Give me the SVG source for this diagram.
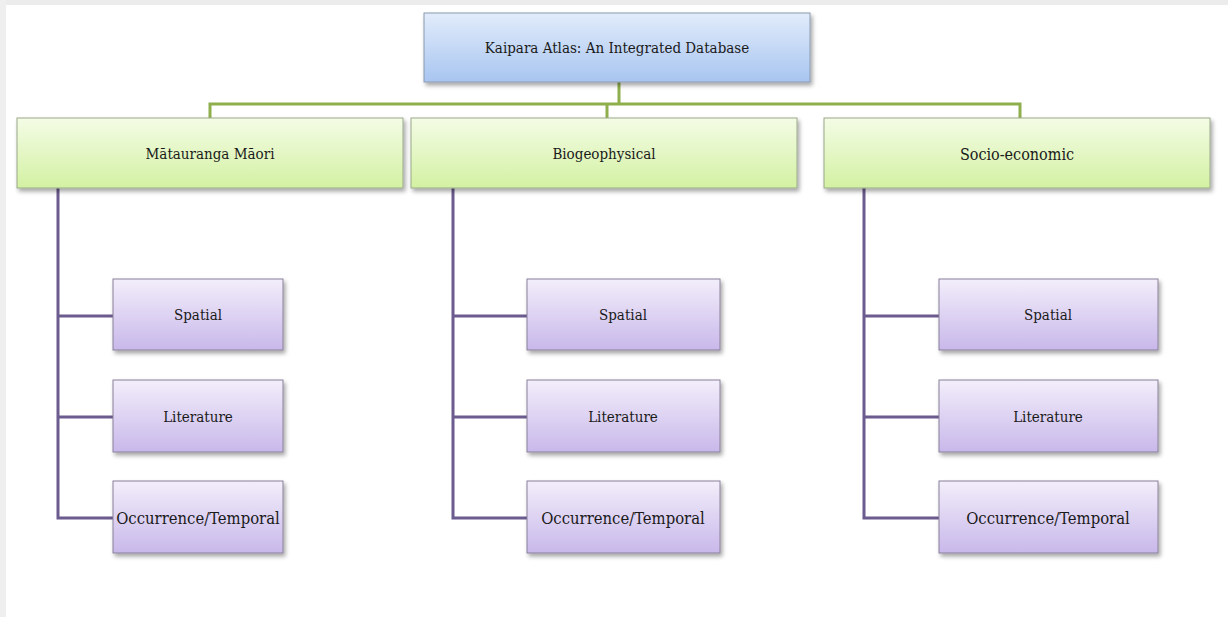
<svg xmlns="http://www.w3.org/2000/svg" width="1228" height="617" viewBox="0 0 1228 617">
<defs>
<linearGradient id="gBlue" x1="0" y1="0" x2="0" y2="1"><stop offset="0" stop-color="#e2ecfb"/><stop offset="1" stop-color="#a8c5f0"/></linearGradient>
<linearGradient id="gGreen" x1="0" y1="0" x2="0" y2="1"><stop offset="0" stop-color="#f4fce6"/><stop offset="1" stop-color="#d3f1a2"/></linearGradient>
<linearGradient id="gPurple" x1="0" y1="0" x2="0" y2="1"><stop offset="0" stop-color="#f3eefb"/><stop offset="1" stop-color="#c8b8ea"/></linearGradient>
<filter id="sh" x="-5%" y="-10%" width="115%" height="130%"><feDropShadow dx="2" dy="3" stdDeviation="2" flood-color="#000" flood-opacity="0.35"/></filter>
</defs>
<style>
text{font-family:"DejaVu Serif","Liberation Serif",serif;font-stretch:condensed;font-size:15px;fill:#1a1a1a;text-anchor:middle;dominant-baseline:central}
text.occ{font-size:16.5px}
.blue{fill:url(#gBlue);stroke:#8a9ab0;stroke-width:1}
.green{fill:url(#gGreen);stroke:#9aa88a;stroke-width:1}
.purple{fill:url(#gPurple);stroke:#8a809a;stroke-width:1}
.gl{fill:none;stroke:#8fae4c;stroke-width:3}
.pl{fill:none;stroke:#6b5b8e;stroke-width:3}
</style>
<rect x="0" y="0" width="1228" height="617" fill="#fff"/>
<rect x="0" y="0" width="1228" height="5" fill="#ececec"/>
<rect x="0" y="0" width="6" height="617" fill="#efefef"/>
<g id="connectors">
<path class="gl" d="M619 82V104M210 118V104H1020V118M607 104V118"/>
<path class="pl" d="M58 188V518H113M58 316H113M58 417H113"/>
<path class="pl" d="M453 188V518H527M453 316H527M453 417H527"/>
<path class="pl" d="M864 188V518H939M864 316H939M864 417H939"/>
</g>
<g id="root"><rect class="blue" filter="url(#sh)" x="424" y="13" width="386" height="69"/><text x="617" y="48">Kaipara Atlas: An Integrated  Database</text></g>
<g id="matauranga"><rect class="green" filter="url(#sh)" x="17" y="118" width="386" height="70"/><text x="210" y="154">Mātauranga Māori</text></g>
<g id="biogeophysical"><rect class="green" filter="url(#sh)" x="411" y="118" width="386" height="70"/><text x="604" y="154">Biogeophysical</text></g>
<g id="socio"><rect class="green" filter="url(#sh)" x="824" y="118" width="386" height="70"/><text x="1017" y="154" style="font-size:16px">Socio-economic</text></g>
<g id="m-spatial"><rect class="purple" filter="url(#sh)" x="113" y="279" width="170" height="71"/><text x="198" y="315">Spatial</text></g>
<g id="m-literature"><rect class="purple" filter="url(#sh)" x="113" y="380" width="170" height="72"/><text x="198" y="417">Literature</text></g>
<g id="m-occurrence"><rect class="purple" filter="url(#sh)" x="113" y="481" width="170" height="72"/><text class="occ" x="198" y="518">Occurrence/Temporal</text></g>
<g id="b-spatial"><rect class="purple" filter="url(#sh)" x="527" y="279" width="193" height="71"/><text x="623" y="315">Spatial</text></g>
<g id="b-literature"><rect class="purple" filter="url(#sh)" x="527" y="380" width="193" height="72"/><text x="623" y="417">Literature</text></g>
<g id="b-occurrence"><rect class="purple" filter="url(#sh)" x="527" y="481" width="193" height="72"/><text class="occ" x="623" y="518">Occurrence/Temporal</text></g>
<g id="s-spatial"><rect class="purple" filter="url(#sh)" x="939" y="279" width="219" height="71"/><text x="1048" y="315">Spatial</text></g>
<g id="s-literature"><rect class="purple" filter="url(#sh)" x="939" y="380" width="219" height="72"/><text x="1048" y="417">Literature</text></g>
<g id="s-occurrence"><rect class="purple" filter="url(#sh)" x="939" y="481" width="219" height="72"/><text class="occ" x="1048" y="518">Occurrence/Temporal</text></g>
</svg>
